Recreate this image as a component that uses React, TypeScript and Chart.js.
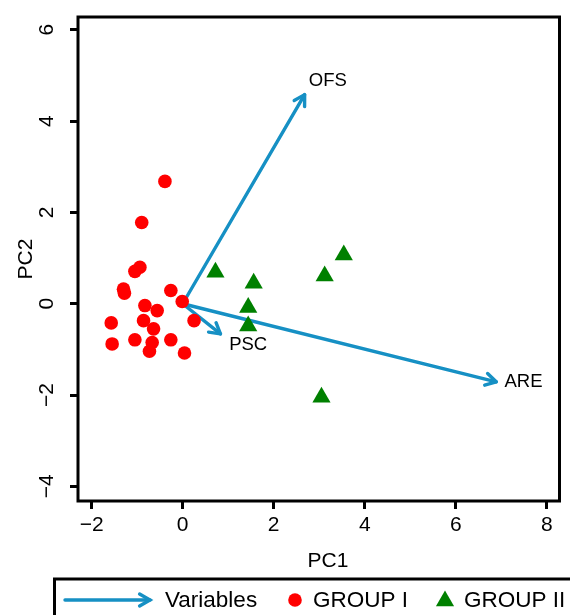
import React, { useEffect, useRef } from "react";
import { Chart, registerables } from "chart.js";

Chart.register(...registerables);

// Scores for GROUP I (red circles)
const groupIX = [-0.39, -0.90, -0.94, -1.05, -1.30, -1.28, -0.26, -0.01, -0.83, -0.56, 0.25, -1.57, -0.86, -0.64, -1.55, -1.05, -0.67, -0.73, -0.26, 0.04];
const groupIY = [2.68, 1.78, 0.80, 0.71, 0.32, 0.23, 0.29, 0.05, -0.04, -0.15, -0.37, -0.42, -0.37, -0.55, -0.88, -0.79, -0.85, -1.04, -0.79, -1.08];

// Scores for GROUP II (green triangles)
const groupIIX = [0.72, 1.56, 1.44, 1.44, 3.12, 3.54, 3.05];
const groupIIY = [0.69, 0.45, -0.08, -0.49, 0.61, 1.07, -2.05];

// Variable loadings (arrows)
const variableNames = ["OFS", "PSC", "ARE"];
const variableX = [2.68, 0.83, 6.89];
const variableY = [4.58, -0.66, -1.71];
const variableLabelX = [3.19, 1.44, 7.49];
const variableLabelY = [4.88, -0.9, -1.71];

// Axes
const xTicks = [-2, 0, 2, 4, 6, 8];
const yTicks = [-4, -2, 0, 2, 4, 6];
const xTitle = "PC1";
const yTitle = "PC2";
const legendLabels = ["Variables", "GROUP I", "GROUP II"];

const RED = "#FF0000";
const GREEN = "#008000";
const BLUE = "#1690C4";
const FONT = "'Liberation Sans', Arial, Helvetica, sans-serif";

function drawArrowHead(ctx: CanvasRenderingContext2D, x0: number, y0: number, x1: number, y1: number, len: number) {
  const ang = Math.atan2(y1 - y0, x1 - x0);
  const a = Math.PI / 6;
  ctx.beginPath();
  ctx.moveTo(x1 - len * Math.cos(ang - a), y1 - len * Math.sin(ang - a));
  ctx.lineTo(x1, y1);
  ctx.lineTo(x1 - len * Math.cos(ang + a), y1 - len * Math.sin(ang + a));
  ctx.stroke();
}

const biplotPlugin = {
  id: "biplotDecor",
  afterDraw(chart: any) {
    const ctx: CanvasRenderingContext2D = chart.ctx;
    const area = chart.chartArea;
    const xs = chart.scales.x;
    const ys = chart.scales.y;
    ctx.save();

    // arrow heads
    ctx.strokeStyle = BLUE;
    ctx.lineWidth = 3.4;
    ctx.lineCap = "round";
    ctx.lineJoin = "round";
    for (let i = 0; i < variableNames.length; i++) {
      const x0 = xs.getPixelForValue(0);
      const y0 = ys.getPixelForValue(0);
      const x1 = xs.getPixelForValue(variableX[i]);
      const y1 = ys.getPixelForValue(variableY[i]);
      drawArrowHead(ctx, x0, y0, x1, y1, 12);
    }

    // variable labels
    ctx.fillStyle = "#000";
    ctx.font = `18.5px ${FONT}`;
    ctx.textAlign = "center";
    ctx.textBaseline = "middle";
    for (let i = 0; i < variableNames.length; i++) {
      ctx.fillText(variableNames[i], xs.getPixelForValue(variableLabelX[i]), ys.getPixelForValue(variableLabelY[i]));
    }

    // box
    ctx.strokeStyle = "#000";
    ctx.lineWidth = 3;
    ctx.lineCap = "butt";
    ctx.lineJoin = "miter";
    ctx.strokeRect(area.left, area.top, area.right - area.left, area.bottom - area.top);

    // tick labels
    ctx.font = `21px ${FONT}`;
    ctx.fillStyle = "#000";
    ctx.textAlign = "center";
    ctx.textBaseline = "middle";
    for (const t of xs.ticks) {
      ctx.fillText(String(t.value).replace("-", "\u2212"), xs.getPixelForValue(t.value), 525);
    }
    for (const t of ys.ticks) {
      ctx.save();
      ctx.translate(47, ys.getPixelForValue(t.value));
      ctx.rotate(-Math.PI / 2);
      ctx.fillText(String(t.value).replace("-", "\u2212"), 0, 0);
      ctx.restore();
    }

    // axis titles
    ctx.fillText(xTitle, 328, 561);
    ctx.save();
    ctx.translate(26, (area.top + area.bottom) / 2);
    ctx.rotate(-Math.PI / 2);
    ctx.fillText(yTitle, 0, 0);
    ctx.restore();

    // legend
    ctx.lineWidth = 3;
    ctx.strokeStyle = "#000";
    ctx.strokeRect(54.5, 579, 600, 80);
    const ly = 600;
    ctx.strokeStyle = BLUE;
    ctx.lineWidth = 3.4;
    ctx.lineCap = "round";
    ctx.beginPath();
    ctx.moveTo(65, ly);
    ctx.lineTo(150, ly);
    ctx.stroke();
    drawArrowHead(ctx, 65, ly, 150, ly, 12);
    ctx.fillStyle = RED;
    ctx.beginPath();
    ctx.arc(295, ly, 6.8, 0, Math.PI * 2);
    ctx.fill();
    ctx.fillStyle = GREEN;
    const r = 10.5;
    const tcx = 445;
    const tcy = ly + 1;
    ctx.beginPath();
    ctx.moveTo(tcx, tcy - r);
    ctx.lineTo(tcx + r * 0.866, tcy + r / 2);
    ctx.lineTo(tcx - r * 0.866, tcy + r / 2);
    ctx.closePath();
    ctx.fill();
    ctx.fillStyle = "#000";
    ctx.font = `22.5px ${FONT}`;
    ctx.textAlign = "left";
    ctx.textBaseline = "middle";
    ctx.fillText(legendLabels[0], 165, ly + 1);
    ctx.fillText(legendLabels[1], 313, ly + 1);
    ctx.fillText(legendLabels[2], 464, ly + 1);

    ctx.restore();
  },
};

export default function App() {
  const ref = useRef<HTMLCanvasElement | null>(null);
  useEffect(() => {
    if (!ref.current) return;
    const arrowSets = variableNames.map((name, i) => ({
      type: "line" as const,
      label: name,
      data: [
        { x: 0, y: 0 },
        { x: variableX[i], y: variableY[i] },
      ],
      borderColor: BLUE,
      borderWidth: 3.4,
      pointRadius: 0,
      showLine: true,
      borderCapStyle: "round" as const,
      fill: false,
    }));
    const chart = new Chart(ref.current, {
      type: "scatter",
      data: {
        datasets: [
          {
            label: "GROUP I",
            data: groupIX.map((x, i) => ({ x, y: groupIY[i] })),
            backgroundColor: RED,
            borderWidth: 0,
            pointRadius: 6.8,
            pointStyle: "circle",
          },
          {
            label: "GROUP II",
            data: groupIIX.map((x, i) => ({ x, y: groupIIY[i] })),
            backgroundColor: GREEN,
            borderWidth: 0,
            pointRadius: 10.5,
            pointStyle: "triangle",
          },
          ...arrowSets,
        ] as any,
      },
      options: {
        animation: false,
        responsive: false,
        devicePixelRatio: 1,
        layout: { padding: { top: 17, right: 9, left: 0, bottom: 0 } },
        plugins: { legend: { display: false }, tooltip: { enabled: false }, title: { display: false } },
        scales: {
          x: {
            type: "linear",
            min: -2.3,
            max: 8.28,
            afterBuildTicks: (s: any) => {
              s.ticks = xTicks.map((v) => ({ value: v }));
            },
            afterFit: (s: any) => {
              s.height = 114;
            },
            border: { display: false },
            grid: { drawOnChartArea: false, drawTicks: true, tickLength: 8, tickWidth: 3, tickColor: "#000" },
            ticks: { display: false },
          },
          y: {
            type: "linear",
            min: -4.32,
            max: 6.28,
            afterBuildTicks: (s: any) => {
              s.ticks = yTicks.map((v) => ({ value: v }));
            },
            afterFit: (s: any) => {
              s.width = 78;
            },
            border: { display: false },
            grid: { drawOnChartArea: false, drawTicks: true, tickLength: 8, tickWidth: 3, tickColor: "#000" },
            ticks: { display: false },
          },
        },
      },
      plugins: [biplotPlugin],
    });
    return () => chart.destroy();
  }, []);
  return (
    <div style={{ position: "absolute", left: 0, top: 0, width: 570, height: 615, background: "#fff" }}>
      <canvas ref={ref} width={570} height={615} style={{ display: "block" }} />
    </div>
  );
}
